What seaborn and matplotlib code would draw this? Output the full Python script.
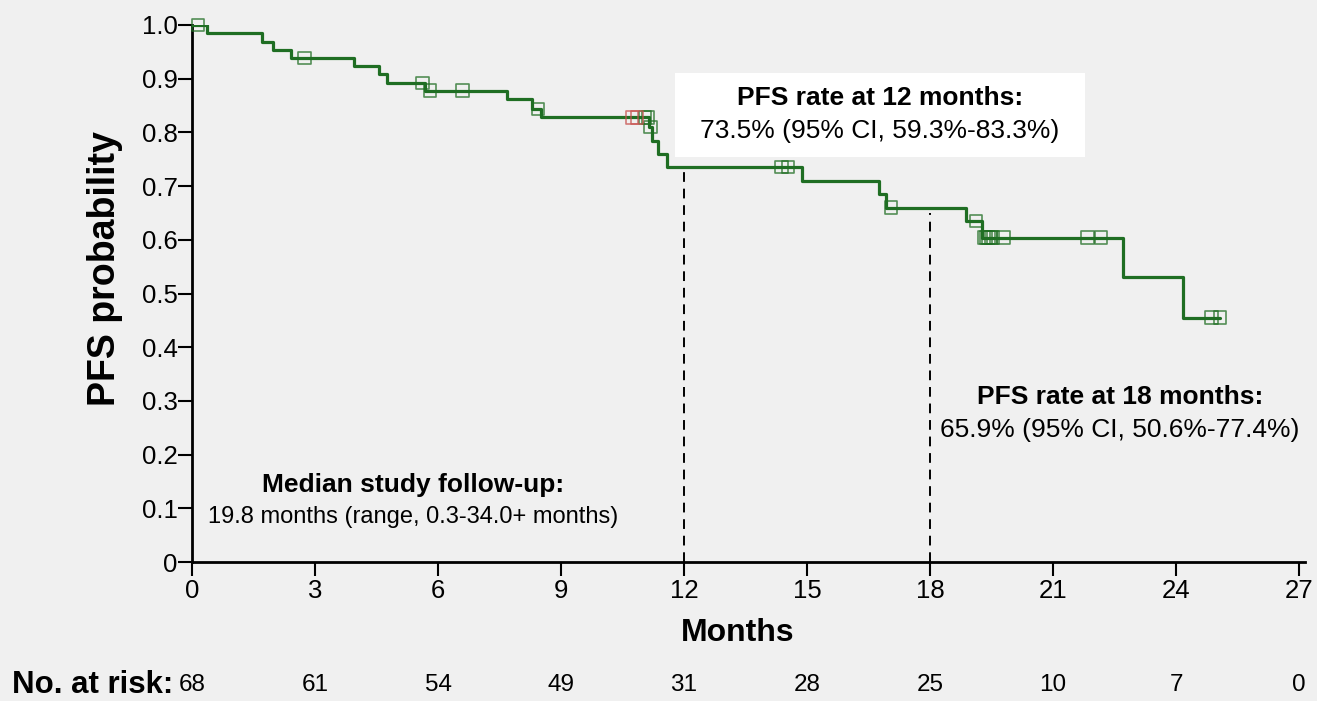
import numpy as np
import pandas as pd
import matplotlib
matplotlib.use("Agg")
import matplotlib.pyplot as plt
from matplotlib.patches import Rectangle
import seaborn as sns

# ---- data ----
event_months = [0.0, 0.36, 1.70, 1.98, 2.41, 3.95, 4.56, 4.75, 5.68, 7.69, 8.30, 8.50,
                11.15, 11.21, 11.37, 11.58, 14.89, 16.76, 16.93, 18.89, 19.28, 22.71, 24.16]
pfs_prob = [1.0, 0.985, 0.969, 0.954, 0.939, 0.924, 0.909, 0.892, 0.878, 0.862, 0.844, 0.828,
            0.810, 0.784, 0.759, 0.736, 0.710, 0.686, 0.660, 0.635, 0.604, 0.530, 0.455]
last_followup = 25.07
censor_green = [0.15, 2.74, 5.62, 5.80, 6.60, 8.44, 11.05, 11.12, 11.18, 14.38, 14.54, 17.05,
                19.12, 19.32, 19.37, 19.43, 19.49, 19.54, 19.79, 21.84, 22.17, 24.87, 25.07]
censor_red = [10.73, 10.85]
xticks = [0, 3, 6, 9, 12, 15, 18, 21, 24, 27]
at_risk = [68, 61, 54, 49, 31, 28, 25, 10, 7, 0]
yticks = [0, 0.1, 0.2, 0.3, 0.4, 0.5, 0.6, 0.7, 0.8, 0.9, 1.0]
ytick_labels = ["0", "0.1", "0.2", "0.3", "0.4", "0.5", "0.6", "0.7", "0.8", "0.9", "1.0"]

GREEN = "#1f6e23"
RED = "#c8524f"
BG = "#f0f0f0"

sns.set_theme(style="ticks")
plt.rcParams["font.family"] = ["Liberation Sans", "DejaVu Sans"]
plt.rcParams["text.color"] = "black"
plt.rcParams["axes.labelcolor"] = "black"

curve = pd.DataFrame({"month": event_months + [last_followup],
                      "prob": pfs_prob + [pfs_prob[-1]]})

def step_value(t):
    i = np.searchsorted(event_months, t, side="right") - 1
    return pfs_prob[i]

cg = pd.DataFrame({"month": censor_green, "prob": [step_value(t) for t in censor_green]})
cr = pd.DataFrame({"month": censor_red, "prob": [step_value(t) for t in censor_red]})

W, H = 1317, 701
fig = plt.figure(figsize=(W/100, H/100), dpi=100, facecolor=BG)
ax = fig.add_axes([192/W, 1-562/H, (1305-192)/W, (562-25)/H])
ax.set_facecolor(BG)

sns.lineplot(data=curve, x="month", y="prob", ax=ax, color=GREEN, linewidth=2.3,
             drawstyle="steps-post", estimator=None, sort=True, zorder=3)
sns.scatterplot(data=cg, x="month", y="prob", ax=ax, marker="s", s=80,
                facecolor="none", edgecolor=GREEN, linewidth=1.2, alpha=0.75,
                zorder=4, clip_on=False)
sns.scatterplot(data=cr, x="month", y="prob", ax=ax, marker="s", s=80,
                facecolor="none", edgecolor=RED, linewidth=1.2, alpha=0.75,
                zorder=4, clip_on=False)

# dashed reference lines at 12 and 18 months
for m, top in ((12, 0.735), (18, 0.650)):
    ax.plot([m, m], [0, top], color="black", linestyle=(0, (5, 3.5)),
            linewidth=1.4, zorder=2)

ax.set_xlim(0, (1305 - 192) / 41.0)
ax.set_ylim(0, 1.0)
ax.set_xticks(xticks)
ax.set_xticklabels([str(t) for t in xticks])
ax.set_yticks(yticks)
ax.set_yticklabels(ytick_labels)
ax.tick_params(axis="both", direction="out", length=10, width=1.5, color="black",
               labelsize=18.5, labelcolor="black")
ax.tick_params(axis="x", pad=2)
ax.tick_params(axis="y", pad=0.5)
for side in ("top", "right"):
    ax.spines[side].set_visible(False)
for side in ("left", "bottom"):
    ax.spines[side].set_linewidth(2)
    ax.spines[side].set_color("black")
ax.set_xlabel("")
ax.set_ylabel("")

fig.text(738/W, 1-633/H, "Months", ha="center", va="center",
         fontsize=23, fontweight="bold")
fig.text(105/W, 1-269/H, "PFS probability", ha="center", va="center", rotation=90,
         fontsize=27, fontweight="bold")

# annotations
ax.add_patch(Rectangle((11.78, 0.755), 10.0, 0.156, facecolor="white", edgecolor="none", zorder=5))
ax.text(16.78, 0.864, "PFS rate at 12 months:", ha="center", va="center",
        fontsize=19, fontweight="bold", zorder=6)
ax.text(16.78, 0.803, "73.5% (95% CI, 59.3%-83.3%)", ha="center", va="center",
        fontsize=19, zorder=6)
ax.text(22.63, 0.307, "PFS rate at 18 months:", ha="center", va="center",
        fontsize=19, fontweight="bold", zorder=6)
ax.text(22.63, 0.246, "65.9% (95% CI, 50.6%-77.4%)", ha="center", va="center",
        fontsize=19, zorder=6)
ax.text(5.39, 0.143, "Median study follow-up:", ha="center", va="center",
        fontsize=19, fontweight="bold", zorder=6)
ax.text(5.39, 0.084, "19.8 months (range, 0.3-34.0+ months)", ha="center", va="center",
        fontsize=17, zorder=6)

# numbers at risk
trans = ax.get_xaxis_transform()
risk_y = (562 - 685) / 537
for t, n in zip(xticks, at_risk):
    ax.text(t, risk_y, str(n), transform=trans, ha="center", va="center",
            fontsize=17.5, clip_on=False)
fig.text(12/W, 1-685/H, "No. at risk:", ha="left", va="center",
         fontsize=22.5, fontweight="bold")

fig.savefig("out.png", dpi=100, facecolor=BG)
